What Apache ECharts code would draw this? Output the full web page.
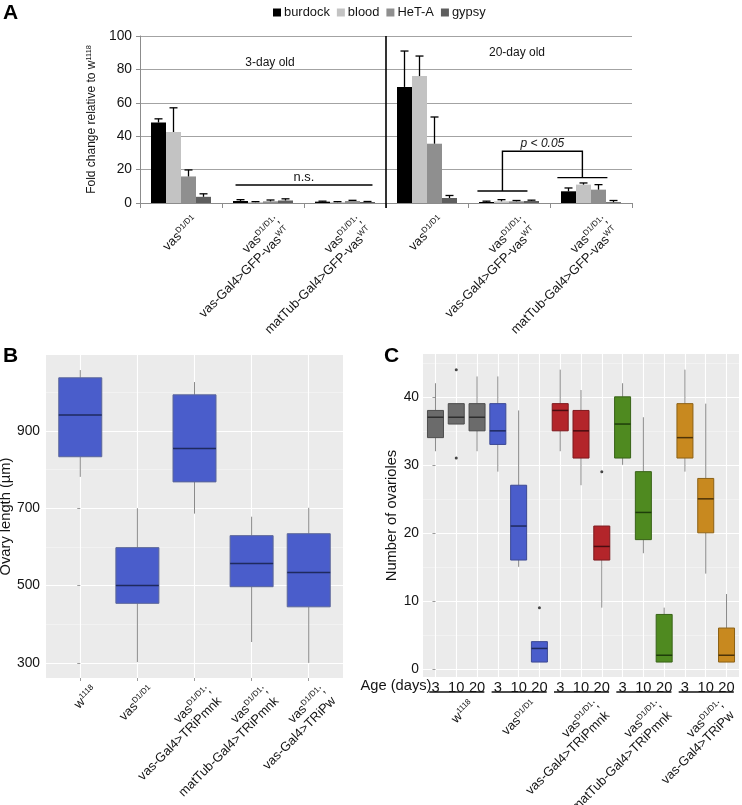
<!DOCTYPE html>
<html><head><meta charset="utf-8">
<script src="https://cdn.jsdelivr.net/npm/echarts@6/dist/echarts.min.js"></script>
<style>html,body{margin:0;padding:0;background:#fff}#c{width:742px;height:805px}</style>
</head><body><div id="c"></div>
<script>
// ---------------- Panel A data ----------------
const catsA = ['vas^D1/D1^', 'vas^D1/D1^;\nvas-Gal4>GFP-vas^WT^', 'vas^D1/D1^;\nmatTub-Gal4>GFP-vas^WT^',
               'vas^D1/D1^', 'vas^D1/D1^;\nvas-Gal4>GFP-vas^WT^', 'vas^D1/D1^;\nmatTub-Gal4>GFP-vas^WT^'];
const namesA = ['burdock', 'blood', 'HeT-A', 'gypsy'];
const burdock = [48.2, 1.2, 0.8, 69.5, 0.6, 7.0];
const blood   = [42.5, 0.5, 0.5, 76.0, 1.0, 11.0];
const hetA    = [15.9, 1.0, 1.2, 35.5, 1.0, 8.0];
const gypsy   = [3.7, 1.5, 0.6, 3.0, 1.2, 0.5];
const burdockErr = [2.2, 0.8, 0.3, 21.5, 0.5, 2.0];
const bloodErr   = [14.5, 0.3, 0.3, 12.0, 1.0, 1.0];
const hetAErr    = [3.9, 0.8, 0.4, 16.0, 0.5, 3.0];
const gypsyErr   = [1.8, 1.0, 0.3, 1.5, 0.5, 1.0];
const yTicksA = [0, 20, 40, 60, 80, 100];

// ---------------- Panel B data ----------------
const catsB = ['w^1118^', 'vas^D1/D1^', 'vas^D1/D1^;\nvas-Gal4>TRiPmnk', 'vas^D1/D1^;\nmatTub-Gal4>TRiPmnk', 'vas^D1/D1^;\nvas-Gal4>TRiPw'];
// [min, Q1, median, Q3, max]
const boxB = [
  [781, 833, 941, 1037, 1057],
  [302, 454, 500, 598, 700],
  [686, 768, 854, 993, 1026],
  [354, 497, 557, 629, 678],
  [300, 445, 534, 634, 701]
];
const yTicksB = [300, 500, 700, 900];
const yMinorB = [400, 600, 800, 1000];

// ---------------- Panel C data ----------------
const ageC = ['3','10','20','3','10','20','3','10','20','3','10','20','3','10','20'];
const groupsC = ['w^1118^', 'vas^D1/D1^', 'vas^D1/D1^;\nvas-Gal4>TRiPmnk', 'vas^D1/D1^;\nmatTub-Gal4>TRiPmnk', 'vas^D1/D1^;\nvas-Gal4>TRiPw'];
const boxC = [
  [32, 34, 37, 38, 42], [36, 36, 37, 39, 39], [32, 35, 37, 39, 43],
  [29, 33, 35, 39, 43], [15, 16, 21, 27, 38], [1, 1, 3, 4, 4],
  [32, 35, 38, 39, 44], [27, 31, 35, 38, 41], [9, 16, 18, 21, 21],
  [30, 31, 36, 40, 42], [17, 19, 23, 29, 37], [1, 1, 2, 8, 9],
  [29, 31, 34, 39, 44], [14, 20, 25, 28, 39], [1, 1, 2, 6, 11]
];
const outlierIdxC = [1, 1, 5, 8];
const outlierValC = [44, 31, 9, 29];
const yTicksC = [0, 10, 20, 30, 40];
const yMinorC = [5, 15, 25, 35, 45];

// ---------------- styles ----------------
function hasFont(f) {
  const c = document.createElement('canvas').getContext('2d');
  const t = 'mmmmmmmmmmlliWWabc123';
  c.font = '20px monospace'; const w0 = c.measureText(t).width;
  c.font = "20px '" + f + "', monospace"; return Math.abs(c.measureText(t).width - w0) > 0.5;
}
const NARROW = hasFont('Liberation Sans Narrow');
const FAM = NARROW ? "'Liberation Sans Narrow', 'Liberation Sans', Arial, sans-serif" : "'Liberation Sans', Arial, sans-serif";
const K = NARROW ? 1 : 0.92;
const fs = n => Math.round(n * K * 10) / 10;
const BOLD = "'Liberation Sans', Arial, sans-serif";

const colorsA = ['#000000', '#c3c3c3', '#8f8f8f', '#5e5e5e'];
const fillB = '#4a5dcb', borderB = '#5b6699', medB = '#1f2a5e';
const fillC = ['#6b6b6b', '#4a5dcb', '#b3252a', '#4f8a20', '#c8891f'];
const borderC = ['#4d4d4d', '#3c4994', '#7d1a1e', '#386317', '#8c6115'];
const medC = ['#2e2e2e', '#1f2a5e', '#4a0d10', '#1e3d0a', '#4d3308'];
const WHISK = '#8a8a8a';
const TXT = '#141414';

function toRich(s, base) {
  return s.split('\n').map(line => line.split('^').map((p, i) => p ? '{' + (i % 2 ? 'sup' : base) + '|' + p + '}' : '').join('')).join('\n');
}
function richSet(size) {
  return {
    n: {fontSize: fs(size), fontFamily: FAM, color: TXT, lineHeight: Math.round(fs(size) + 2)},
    sup: {fontSize: fs(size * 0.62), fontFamily: FAM, color: TXT, verticalAlign: 'top', lineHeight: Math.round(fs(size * 0.62) + 1)}
  };
}
function boxItem(boxW, fillOf, borderOf, medOf) {
  return function (params, api) {
    const i = api.value(0);
    const lo = api.coord([i, api.value(1)]), q1 = api.coord([i, api.value(2)]), md = api.coord([i, api.value(3)]),
          q3 = api.coord([i, api.value(4)]), hi = api.coord([i, api.value(5)]);
    const x = lo[0], h = boxW / 2;
    return {type: 'group', children: [
      {type: 'line', shape: {x1: x, y1: hi[1], x2: x, y2: q3[1]}, style: {stroke: WHISK, lineWidth: 1}},
      {type: 'line', shape: {x1: x, y1: q1[1], x2: x, y2: lo[1]}, style: {stroke: WHISK, lineWidth: 1}},
      {type: 'rect', shape: {x: x - h, y: q3[1], width: boxW, height: q1[1] - q3[1]}, style: {fill: fillOf(i), stroke: borderOf(i), lineWidth: 1}},
      {type: 'line', shape: {x1: x - h, y1: md[1], x2: x + h, y2: md[1]}, style: {stroke: medOf(i), lineWidth: 1.5}}
    ]};
  };
}

const chart = echarts.init(document.getElementById('c'), null, {renderer: 'canvas', width: 742, height: 805});

const BW = 15;
const seriesValsA = [burdock, blood, hetA, gypsy];
const seriesErrA = [burdockErr, bloodErr, hetAErr, gypsyErr];
const errData = [];
catsA.forEach((c, ci) => seriesValsA.forEach((arr, k) => errData.push([ci, k, arr[ci], arr[ci] + seriesErrA[k][ci]])));

const labelRot = (size, pad, margin) => ({
  interval: 0, rotate: 45, align: 'right', verticalAlign: 'top', padding: [pad, 0, 0, 0], margin: margin,
  formatter: v => toRich(v, 'n'), rich: richSet(size)
});

const option = {
  animation: false,
  backgroundColor: '#ffffff',
  textStyle: {fontFamily: FAM},
  legend: {
    data: namesA, left: 268, top: 1, icon: 'rect', itemWidth: 8, itemHeight: 8, itemGap: 7,
    textStyle: {fontSize: fs(14), fontFamily: FAM, color: TXT, padding: [0, 0, 0, -2]}
  },
  grid: [
    {left: 140, top: 36, width: 492, height: 167, outerBoundsMode: 'none'},
    {left: 46, top: 355, width: 297, height: 323, show: true, backgroundColor: '#ebebeb', borderWidth: 0, outerBoundsMode: 'none'},
    {left: 51.71, top: 355, width: 285.58, height: 323, outerBoundsMode: 'none'},
    {left: 423, top: 354, width: 316, height: 323, show: true, backgroundColor: '#ebebeb', borderWidth: 0, outerBoundsMode: 'none'},
    {left: 425.08, top: 354, width: 311.84, height: 323, outerBoundsMode: 'none'}
  ],
  xAxis: [
    {gridIndex: 0, type: 'category', data: catsA,
     axisLine: {show: true, lineStyle: {color: '#8c8c8c', width: 1}},
     axisTick: {show: true, length: 5, lineStyle: {color: '#8c8c8c'}},
     axisLabel: labelRot(14, 13, 1), splitLine: {show: false}},
    {gridIndex: 1, type: 'value', min: -0.6, max: 4.6,
     axisLine: {show: false}, axisLabel: {show: false}, axisTick: {show: false, customValues: [0, 1, 2, 3, 4]},
     splitLine: {show: true, lineStyle: {color: '#ffffff', width: 1.1}}},
    {gridIndex: 2, type: 'category', data: catsB,
     axisLine: {show: false}, axisTick: {show: true, alignWithLabel: true, length: 3, lineStyle: {color: '#9a9a9a'}},
     axisLabel: labelRot(14, 13, -4), splitLine: {show: false}},
    {gridIndex: 3, type: 'value', min: -0.6, max: 14.6,
     axisLine: {show: false}, axisLabel: {show: false}, axisTick: {show: false, customValues: [0,1,2,3,4,5,6,7,8,9,10,11,12,13,14]},
     splitLine: {show: true, lineStyle: {color: '#ffffff', width: 1.1}}},
    {gridIndex: 4, type: 'category', data: ageC,
     axisLine: {show: false}, axisTick: {show: false},
     axisLabel: {interval: 0, margin: 3, fontSize: fs(16), fontFamily: FAM, color: TXT}, splitLine: {show: false}},
    {gridIndex: 4, type: 'category', data: groupsC, position: 'bottom', offset: 10,
     axisLine: {show: false}, axisTick: {show: false},
     axisLabel: labelRot(14, 15, 0), splitLine: {show: false}}
  ],
  yAxis: [
    {gridIndex: 0, type: 'value', min: 0, max: 100, interval: 20,
     name: toRich('Fold change relative to w^1118^', 'n'), nameLocation: 'middle', nameGap: 40, nameRotate: 90,
     nameTextStyle: {rich: richSet(13)},
     axisLine: {show: true, lineStyle: {color: '#8c8c8c'}}, axisTick: {show: true, length: 4, lineStyle: {color: '#8c8c8c'}},
     axisLabel: {fontSize: fs(15), fontFamily: FAM, color: TXT, margin: 8},
     splitLine: {show: true, lineStyle: {color: '#a3a3a3', width: 1}}},
    {gridIndex: 1, type: 'value', min: 261, max: 1096,
     name: 'Ovary length (µm)', nameLocation: 'middle', nameGap: 29, nameRotate: 90,
     nameTextStyle: {fontSize: fs(16), fontFamily: FAM, color: TXT},
     axisLine: {show: false}, axisTick: {show: true, length: 3, customValues: yTicksB, lineStyle: {color: '#9a9a9a'}},
     axisLabel: {customValues: yTicksB, fontSize: fs(15), fontFamily: FAM, color: TXT, margin: 6},
     splitLine: {show: true, lineStyle: {color: '#ffffff', width: 1.1}}},
    {gridIndex: 1, type: 'value', min: 261, max: 1096,
     axisLine: {show: false}, axisLabel: {show: false}, axisTick: {show: false, customValues: yMinorB},
     splitLine: {show: true, lineStyle: {color: '#f6f6f6', width: 0.6}}},
    {gridIndex: 2, type: 'value', min: 261, max: 1096, show: false},
    {gridIndex: 3, type: 'value', min: -1.2, max: 46.3,
     name: 'Number of ovarioles', nameLocation: 'middle', nameGap: 19, nameRotate: 90,
     nameTextStyle: {fontSize: fs(16), fontFamily: FAM, color: TXT},
     axisLine: {show: false}, axisTick: {show: true, length: 3, customValues: yTicksC, lineStyle: {color: '#9a9a9a'}},
     axisLabel: {customValues: yTicksC, fontSize: fs(15), fontFamily: FAM, color: TXT, margin: 4},
     splitLine: {show: true, lineStyle: {color: '#ffffff', width: 1.1}}},
    {gridIndex: 3, type: 'value', min: -1.2, max: 46.3,
     axisLine: {show: false}, axisLabel: {show: false}, axisTick: {show: false, customValues: yMinorC},
     splitLine: {show: true, lineStyle: {color: '#f6f6f6', width: 0.6}}},
    {gridIndex: 4, type: 'value', min: -1.2, max: 46.3, show: false}
  ],
  series: [
    ...seriesValsA.map((arr, k) => ({
      name: namesA[k], type: 'bar', xAxisIndex: 0, yAxisIndex: 0, data: arr,
      barWidth: BW, barGap: '0%', itemStyle: {color: colorsA[k]}, z: 2
    })),
    {type: 'custom', name: 'err', xAxisIndex: 0, yAxisIndex: 0, data: errData, encode: {x: 0, y: 3}, z: 3,
     renderItem: function (params, api) {
       const c = api.value(0), k = api.value(1);
       const p0 = api.coord([c, api.value(2)]), p1 = api.coord([c, api.value(3)]);
       const x = p0[0] + (k - 1.5) * BW;
       return {type: 'group', children: [
         {type: 'line', shape: {x1: x, y1: p0[1], x2: x, y2: p1[1]}, style: {stroke: '#000', lineWidth: 1.3}},
         {type: 'line', shape: {x1: x - 4, y1: p1[1], x2: x + 4, y2: p1[1]}, style: {stroke: '#000', lineWidth: 1.3}}
       ]};
     }},
    {type: 'custom', name: 'boxB', xAxisIndex: 2, yAxisIndex: 3, data: boxB.map((b, i) => [i].concat(b)),
     encode: {x: 0, y: [1, 2, 3, 4, 5]}, z: 3,
     renderItem: boxItem(43, () => fillB, () => borderB, () => medB)},
    {type: 'custom', name: 'boxC', xAxisIndex: 4, yAxisIndex: 6, data: boxC.map((b, i) => [i].concat(b)),
     encode: {x: 0, y: [1, 2, 3, 4, 5]}, z: 3,
     renderItem: boxItem(16, i => fillC[Math.floor(i / 3)], i => borderC[Math.floor(i / 3)], i => medC[Math.floor(i / 3)])},
    {type: 'scatter', name: 'outliers', xAxisIndex: 4, yAxisIndex: 6, data: outlierIdxC.map((c, k) => [c, outlierValC[k]]),
     symbolSize: 3, itemStyle: {color: '#1a1a1a'}, z: 4}
  ]
};
chart.setOption(option);

// -------- annotations positioned through the axes --------
const pa = (c, v) => chart.convertToPixel({xAxisIndex: 0, yAxisIndex: 0}, [c, v]);
const pc = (c, v) => chart.convertToPixel({xAxisIndex: 4, yAxisIndex: 6}, [c, v]);
const bandA = pa(1, 0)[0] - pa(0, 0)[0];
const yA = v => pa(0, v)[1];
const divX = (pa(2, 0)[0] + pa(3, 0)[0]) / 2;
const nsX1 = pa(1, 0)[0] - 0.335 * bandA, nsX2 = pa(2, 0)[0] + 0.335 * bandA;
const xc4 = pa(4, 0)[0], xc5 = pa(5, 0)[0];
const lowMid = xc4 - 0.08 * bandA, upMid = xc5 - 0.105 * bandA;
const sC = pc(1, 0)[0] - pc(0, 0)[0];
const yBotC = pc(0, -1.2)[1];

const line = (x1, y1, x2, y2, w, col) => ({type: 'line', z: 50, shape: {x1, y1, x2, y2}, style: {stroke: col || '#000', lineWidth: w || 1.3}});
const text = (t, x, y, font, align, va, col) => ({type: 'text', z: 50, x, y,
  style: {text: t, font, fill: col || TXT, align: align || 'center', verticalAlign: va || 'middle', textAlign: align || 'center', textVerticalAlign: va || 'middle'}});

const g = [
  text('A', 3, 13, 'bold 21px ' + BOLD, 'left', 'middle', '#000'),
  text('B', 3, 356, 'bold 21px ' + BOLD, 'left', 'middle', '#000'),
  text('C', 384, 356, 'bold 21px ' + BOLD, 'left', 'middle', '#000'),
  text('3-day old', 270, 63, fs(13) + 'px ' + FAM),
  text('20-day old', 517, 53, fs(13) + 'px ' + FAM),
  line(divX, yA(100), divX, yA(0) + 5, 1.6),
  line(nsX1, yA(10.8), nsX2, yA(10.8), 1.4),
  text('n.s.', (nsX1 + nsX2) / 2, yA(10.8) - 8, fs(14) + 'px ' + FAM),
  line(xc4 - 0.385 * bandA, yA(7.2), xc4 + 0.225 * bandA, yA(7.2), 1.4),
  line(xc5 - 0.41 * bandA, yA(15.2), xc5 + 0.2 * bandA, yA(15.2), 1.4),
  {type: 'polyline', z: 50, shape: {points: [[lowMid, yA(7.2)], [lowMid, yA(31)], [upMid, yA(31)], [upMid, yA(15.2)]]},
   style: {stroke: '#000', lineWidth: 1.4, fill: null}},
  text('p < 0.05', (lowMid + upMid) / 2, yA(35.5), 'italic ' + fs(13) + 'px ' + FAM),
  text('Age (days)', pc(0, 0)[0] - 4, yBotC + 9, fs(16) + 'px ' + FAM, 'right', 'middle')
];
for (let k = 0; k < groupsC.length; k++) {
  const x1 = pc(3 * k, 0)[0] - 0.3 * sC, x2 = pc(3 * k + 2, 0)[0] + 0.35 * sC;
  g.push(line(x1, yBotC + 15, x2, yBotC + 15, 1.5, '#111'));
}
chart.setOption({graphic: g});
</script>
</body></html>
